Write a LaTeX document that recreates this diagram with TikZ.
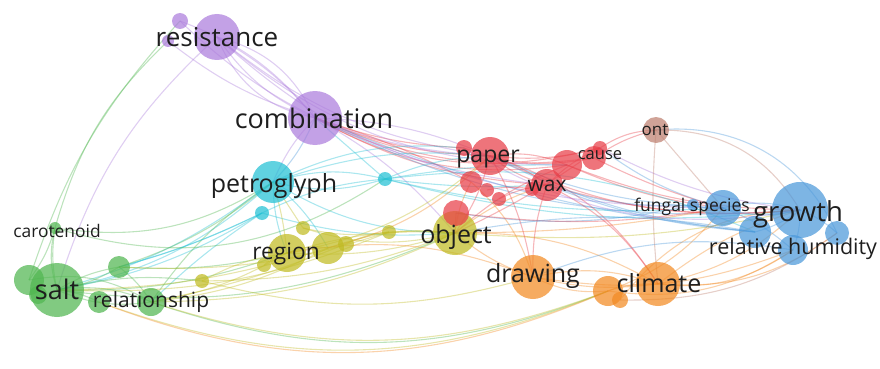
\documentclass[tikz,border=0pt]{standalone}
\usepackage{fontspec}
\setmainfont{Open Sans}
\usetikzlibrary{backgrounds}

\definecolor{cred}{RGB}{232,62,72}
\definecolor{cgrn}{RGB}{80,182,80}
\definecolor{cblu}{RGB}{75,152,218}
\definecolor{cyel}{RGB}{192,187,35}
\definecolor{cpur}{RGB}{172,125,220}
\definecolor{ccya}{RGB}{35,192,212}
\definecolor{cora}{RGB}{242,138,35}
\definecolor{cbrn}{RGB}{190,128,112}
\definecolor{ctxt}{RGB}{30,30,30}

\tikzset{
  bubble/.style={circle, inner sep=0pt, draw=none, fill opacity=0.72},
  lbl/.style={inner sep=0pt, text=ctxt},
  edge/.style={line width=1.1pt, draw opacity=0.38}
}

\begin{document}
\begin{tikzpicture}[x=1pt,y=-1pt]

\useasboundingbox (0,0) rectangle (880,369);

% bubbles
\foreach \n/\c/\x/\y/\r in {
  res/cpur/217/37/23, pu1/cpur/180/21/8, pu2/cpur/168/41/6, comb/cpur/315/118/27,
  petro/ccya/273/182/21, cy1/ccya/262/213/7, cy2/ccya/385/179/7,
  obj/cyel/455/233/22, reg/cyel/287/253/19, ye1/cyel/328/248/16, ye2/cyel/346/244/8,
  ye3/cyel/303/228/7, ye4/cyel/389/232/7, ye5/cyel/264/265/7, ye6/cyel/202/281/7,
  pap/cred/490/156/19, re1/cred/464/148/8, re2/cred/471/182/11, re3/cred/487/190/7,
  re4/cred/499/199/7, re5/cred/456/213/13, wax/cred/547/185/16, re6/cred/567/165/15,
  re7/cred/594/158/12, cau/cred/600/148/7, re8/cred/532/189/7,
  draw/cora/533/277/22, clim/cora/658/284/22, or1/cora/608/291/15, or2/cora/620/300/8,
  grow/cblu/800/210/28, bl1/cblu/723/208/18, bl2/cblu/755/232/16, bl3/cblu/837/233/12,
  bl4/cblu/793/250/15, bl5/cblu/693/205/6,
  ont/cbrn/656/130/13,
  salt/cgrn/57/290/27, gr1/cgrn/29/280/15, gr2/cgrn/38/295/9, gr3/cgrn/119/267/11,
  gr4/cgrn/99/302/11, gr5/cgrn/151/302/14, car/cgrn/55/228/6}
{
  \node[bubble, fill=\c, minimum size=2*\r] (\n) at (\x,\y) {};
}

% links
\begin{scope}[on background layer]
\foreach \a/\b/\c/\k in {
  res/comb/cpur/10, res/comb/cpur/-15, res/comb/cpur/25, pu1/comb/cpur/15,
  pu2/comb/cpur/-10, res/pap/cpur/-15, pu1/pap/cpur/-20, comb/pap/cred/-10,
  comb/pap/cpur/10, comb/wax/cred/-12, comb/re6/cred/-18, comb/cau/cred/-20,
  comb/grow/cblu/-15, comb/obj/cpur/10, comb/petro/cblu/10, comb/petro/cpur/-10,
  comb/cy2/ccya/0, pu2/car/cgrn/-15, pu1/gr1/cgrn/-12, res/salt/cpur/-15,
  comb/re1/cred/-8, comb/re7/cred/-15, comb/re2/cred/5, res/re6/cpur/-20,
  res/wax/cpur/-18, comb/bl1/cpur/-12, comb/bl2/cblu/-8, res/comb/cpur/-28,
  petro/cy2/ccya/15, petro/cy2/ccya/-15, cy1/cy2/ccya/10, petro/pap/ccya/12,
  cy2/pap/ccya/10, cy2/wax/ccya/-5, cy2/grow/ccya/-10, petro/salt/ccya/15,
  cy1/salt/ccya/10, cy1/gr3/ccya/5, petro/gr5/cgrn/-10, cy1/obj/ccya/-10,
  petro/reg/cyel/5, petro/obj/ccya/-15, petro/re1/ccya/15, cy2/re6/ccya/5,
  cy2/bl1/ccya/-8, salt/petro/ccya/-10, gr3/cy1/ccya/-5, gr5/cy1/ccya/5,
  reg/petro/ccya/10, ye1/petro/ccya/-10, ye3/petro/cyel/0,
  salt/gr3/cgrn/10, salt/gr3/cgrn/-10, salt/gr5/cgrn/15, salt/gr5/cgrn/-15,
  gr1/gr5/cgrn/20, salt/car/cgrn/10, gr1/car/cgrn/-10, salt/gr4/cgrn/10,
  gr3/gr5/cgrn/10, salt/reg/cgrn/-10, gr3/reg/cgrn/-8, gr5/reg/cyel/-10,
  salt/ye6/cgrn/10, gr5/obj/cyel/-12, salt/obj/cgrn/-15, gr5/or1/cgrn/-20,
  gr4/or1/cyel/-21, gr3/petro/cgrn/-10, car/petro/cgrn/-20, car/cy2/cgrn/-25,
  salt/ye1/cyel/-8, gr5/ye1/cyel/-10, gr3/ye4/cyel/-10, salt/ye4/cyel/-12,
  gr5/ye2/cyel/-5, gr5/or1/cyel/-19, gr4/or1/cora/-22, car/salt/cgrn/-15,
  reg/obj/cyel/10, reg/obj/cyel/-10, ye1/obj/cyel/12, ye4/obj/cyel/5,
  ye3/obj/cyel/-15, ye6/reg/cyel/10, ye6/obj/cyel/-10, reg/ye1/cyel/15,
  ye3/ye4/cyel/-10, reg/pap/cyel/-15, ye1/pap/cora/-15, obj/clim/cora/15,
  reg/draw/cora/15, ye2/ye4/cyel/10, ye5/reg/cyel/10, ye6/draw/cyel/-15,
  obj/grow/cyel/-8, obj/bl1/cora/-5, obj/wax/cora/10, obj/re6/cred/10,
  obj/cau/cred/-5,
  pap/wax/cred/10, pap/wax/cred/-10, pap/re6/cred/15, pap/cau/cred/-10,
  wax/cau/cred/10, re1/re7/cred/-15, pap/grow/cred/-15, wax/grow/cred/-10,
  re6/bl1/cred/-8, cau/ont/cred/15, re7/ont/cred/10, pap/obj/cred/10,
  re5/obj/cred/0, re2/obj/cora/-10, pap/draw/cred/10, wax/clim/cred/15,
  pap/clim/cred/20, re2/draw/cora/15, wax/draw/cred/-10, re1/grow/cpur/-20,
  cau/bl1/cblu/-10, re5/bl5/cblu/-10, re3/re8/cred/10, re4/wax/cred/10,
  re6/grow/cred/-10, cau/grow/cpur/-10, re7/bl1/cred/-5, re5/bl1/cred/-8,
  draw/clim/cora/15, draw/clim/cora/-10, or1/clim/cora/10, draw/or1/cora/-15,
  clim/grow/cora/10, clim/bl4/cora/-20, or1/bl1/cora/-15, draw/obj/cora/10,
  or2/grow/cora/25, clim/bl3/cora/-20, clim/grow/cora/-15, or1/bl4/cora/-20,
  draw/bl4/cora/-15, or2/bl3/cbrn/-18,
  grow/bl1/cblu/15, grow/bl1/cblu/-15, grow/bl2/cblu/10, grow/bl3/cblu/10,
  grow/bl4/cblu/10, bl1/bl5/cblu/10, bl1/bl4/cblu/10, bl1/pap/cblu/10,
  bl5/wax/cblu/10, bl2/obj/cblu/-10, bl2/cy2/ccya/-15, ont/bl3/cblu/35,
  ont/bl1/cbrn/0, bl4/draw/cblu/-15, pap/bl2/cblu/-10, wax/bl2/cblu/-8,
  ont/grow/cbrn/30, ont/clim/cbrn/-5}
{
  \draw[edge, \c] (\a.center) to[bend left=\k] (\b.center);
}
\end{scope}

% labels
\foreach \n/\t/\x/\y/\s in {
  res/resistance/217/37/26, comb/combination/314/118/27,
  petro/petroglyph/274/186/25, pap/paper/488/159/23, wax/wax/547/186/21,
  cau/cause/600/155/16.5, ont/ont/655/130/17, fung/fungal species/692/207/17.5,
  grow/growth/798/214/27.5, hum/relative humidity/793/249/21.5,
  clim/climate/659/283/25, draw/drawing/533/276/25, obj/object/456/237/25,
  reg/region/286/254/22.7, salt/salt/57/289/27, rel/relationship/151/302/21,
  car/carotenoid/57/231/17.4}
{
  \node[lbl, font=\fontsize{\s}{\s}\selectfont] (t\n) at (\x,\y) {\t};
}

\end{tikzpicture}
\end{document}
